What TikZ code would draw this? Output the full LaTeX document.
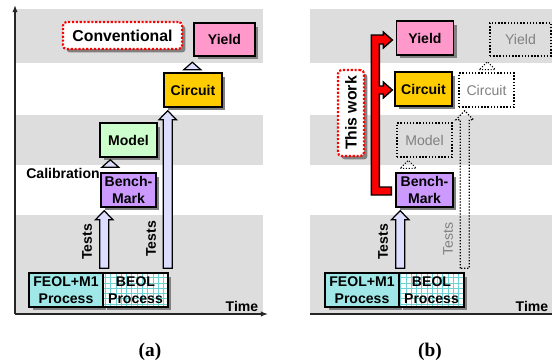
\documentclass[tikz,border=0pt]{standalone}
\usepackage{fontspec}
\setmainfont{Liberation Sans}
\newfontfamily\capfont{Liberation Serif}
\usetikzlibrary{calc, patterns, shadows, arrows.meta}
\definecolor{bandgray}{RGB}{221,221,221}
\definecolor{yieldpink}{RGB}{255,153,204}
\definecolor{circuitgold}{RGB}{255,204,0}
\definecolor{modelgreen}{RGB}{204,255,204}
\definecolor{benchpurple}{RGB}{204,153,255}
\definecolor{feolteal}{RGB}{160,232,232}
\definecolor{gridteal}{RGB}{110,210,210}
\definecolor{testlilac}{RGB}{221,221,255}
\definecolor{ghostgray}{RGB}{128,128,128}
\tikzstyle{box} = [rectangle, draw, line width=0.8pt, minimum width=1.14cm, minimum height=0.68cm, align=center, inner sep=1pt, font=\fontsize{8}{9.5}\selectfont\bfseries, drop shadow={shadow xshift=0.07cm, shadow yshift=-0.07cm, fill=black!50, opacity=1}]
\tikzstyle{ghost} = [rectangle, draw, densely dotted, line width=0.8pt, minimum width=1.14cm, minimum height=0.68cm, align=center, text=ghostgray, font=\fontsize{8}{9.5}\selectfont]
\tikzstyle{note} = [rectangle, draw=red, fill=white, densely dotted, line width=1.2pt, rounded corners=2pt, inner sep=1pt, font=\fontsize{9}{10}\selectfont\bfseries, drop shadow={shadow xshift=0.07cm, shadow yshift=-0.07cm, fill=black!50, opacity=1}]
\tikzstyle{lbl} = [font=\fontsize{8}{9.5}\selectfont\bfseries, inner sep=0pt]
\tikzstyle{fat} = [draw, line width=0.7pt, fill=testlilac]
\tikzstyle{ghostfat} = [draw, densely dotted, line width=0.7pt]
\tikzstyle{tri} = [draw, line width=0.7pt, fill=testlilac]
\tikzstyle{ghosttri} = [draw, densely dotted, line width=0.6pt]
\tikzstyle{redarrow} = [draw, line width=0.8pt, fill=red]
\tikzstyle{axis} = [line width=0.8pt, black!85]
% hollow block arrow, straight up from #2 to the height of #3
\newcommand{\fatarrow}[3]{%
  \draw[#1] let \p1=#2, \p2=#3 in
    (\x1-2.56pt,\y1) -- (\x1-2.56pt,\y2-5.12pt) -- (\x1-4.95pt,\y2-5.12pt) -- (\x1,\y2)
    -- (\x1+4.95pt,\y2-5.12pt) -- (\x1+2.56pt,\y2-5.12pt) -- (\x1+2.56pt,\y1) -- cycle;}

\begin{document}
\begin{tikzpicture}[x=0.02cm, y=-0.02cm]
    \useasboundingbox (0,0) rectangle (552,362);

    % Bands
    \fill[bandgray] (15,9) rectangle (263,63);
    \fill[bandgray] (15,115) rectangle (263,165);
    \fill[bandgray] (15,215) rectangle (263,314);
    \fill[bandgray] (310,9) rectangle (552,63);
    \fill[bandgray] (310,115) rectangle (552,165);
    \fill[bandgray] (310,215) rectangle (552,314);

    % Axes
    \coordinate (origa) at (15,314);
    \coordinate (topa) at (15,5);
    \coordinate (enda) at (268,314);
    \coordinate (origb) at (310,314);
    \coordinate (endb) at (552,314);
    \draw[axis, -{Latex[length=4pt, width=3pt]}] (origa) -- (topa);
    \draw[axis, -{Latex[length=4pt, width=3pt]}] (origa) -- (enda);
    \draw[axis] (origb) -- (endb);

    % ---- (a) ----
    \node[note, minimum width=2.38cm, minimum height=0.54cm] (conv) at (122.5,35.5) {Conventional};
    \node[box, fill=yieldpink, minimum width=1.22cm, minimum height=0.66cm] (yielda) at (224.5,39.5) {Yield};
    \node[box, fill=circuitgold, minimum width=1.16cm] (circuita) at (193,90) {Circuit};
    \node[box, fill=modelgreen] (modela) at (128.5,140) {Model};
    \node[box, fill=benchpurple, minimum width=1.1cm] (bencha) at (128.5,190) {Bench-\\Mark};
    \node[box, fill=feolteal, minimum width=1.48cm] (feola) at (66,290) {FEOL+M1\\Process};
    \node[box, preaction={fill=white}, pattern=grid, pattern color=gridteal, minimum width=1.3cm] (beola) at (135.5,290) {BEOL\\Process};
    \node[lbl] (calib) at (63,173) {Calibration};
    \node[lbl, rotate=90] (testsa) at (87,242) {Tests};
    \node[lbl, rotate=90] (testsaa) at (151,239) {Tests};
    \node[lbl] (timea) at (242,306) {Time};

    % Arrows (a)
    \fatarrow{fat}{($(feola.north east)+(0.5,-4)$)}{($(bencha.south)+(0,3)$)}
    \fatarrow{fat}{($(beola.north east)+(-1,-4)$)}{($(circuita.south)+(0,3)$)}
    \draw[tri] ($(bencha.north west)+(10,-5)$) ++(-8.5,0) -- ++(17,0) -- ++(-8.5,-7.5) -- cycle;
    \draw[tri] ($(yielda.south west)+(-1,13)$) ++(-8.5,0) -- ++(17,0) -- ++(-8.5,-7.5) -- cycle;

    % ---- (b) ----
    \node[box, fill=yieldpink, minimum width=1.14cm] (yieldb) at (425,38) {Yield};
    \node[ghost, minimum width=1.22cm, minimum height=0.66cm] (yieldg) at (520.5,39.5) {Yield};
    \node[box, fill=circuitgold] (circuitb) at (423.5,89) {Circuit};
    \node[ghost, minimum width=1.1cm] (circuitg) at (486.5,90) {Circuit};
    \node[ghost, minimum width=1.1cm] (modelg) at (424.5,140) {Model};
    \node[box, fill=benchpurple] (benchb) at (424.5,190) {Bench-\\Mark};
    \node[box, fill=feolteal, minimum width=1.48cm] (feolb) at (362,290) {FEOL+M1\\Process};
    \node[box, preaction={fill=white}, pattern=grid, pattern color=gridteal, minimum width=1.3cm] (beolb) at (431.5,290) {BEOL\\Process};
    \node[note, minimum width=0.52cm, minimum height=1.72cm] (thiswork) at (351,113) {\rotatebox{90}{This work}};
    \node[lbl, rotate=90] (testsb) at (383,242) {Tests};
    \node[lbl, rotate=90, text=ghostgray, font=\fontsize{8}{9.5}\selectfont] (testsg) at (448,239) {Tests};
    \node[lbl] (timeb) at (532,306) {Time};

    % Arrows (b)
    \fatarrow{fat}{($(feolb.north east)+(0.5,-4)$)}{($(benchb.south)+(0,3)$)}
    \fatarrow{ghostfat}{($(beolb.north east)+(0,-4)$)}{($(circuitg.south)+(0,3)$)}
    \draw[ghosttri] ($(benchb.north west)+(13,-4)$) ++(-8,0) -- ++(16,0) -- ++(-8,-8) -- cycle;
    \draw[ghosttri] ($(yieldg.south west)+(-2,13)$) ++(-8,0) -- ++(16,0) -- ++(-8,-8) -- cycle;
    \draw[redarrow] ($(benchb.west)+(-4,5)$) -- ++(-20,0) -- ++(0,-160) -- ++(12,0) -- ++(0,-3)
        -- ++(9,8) -- ++(-9,8) -- ++(0,-4) -- ++(-4,0) -- ++(0,42) -- ++(4,0) -- ++(0,-4)
        -- ++(9,8) -- ++(-9,8) -- ++(0,-4) -- ++(-4,0) -- ++(0,93) -- ++(12,0) -- cycle;

    % Captions
    \node[font=\capfont\fontsize{11}{12}\selectfont\bfseries] (capa) at (150,352) {(a)};
    \node[font=\capfont\fontsize{11}{12}\selectfont\bfseries] (capb) at (430,352) {(b)};
\end{tikzpicture}
\end{document}
